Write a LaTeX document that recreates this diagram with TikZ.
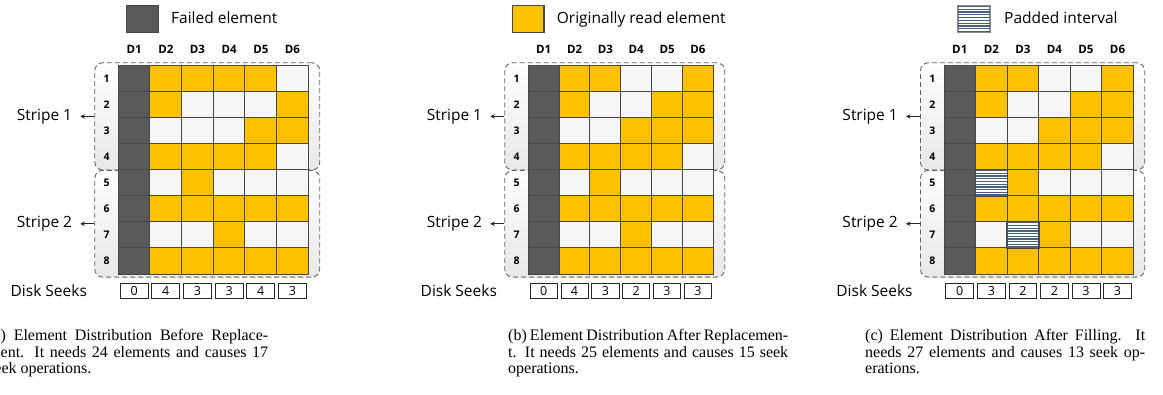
\documentclass[tikz,border=0pt]{standalone}
\usepackage{fontspec}
\setmainfont{Liberation Serif}
\newfontfamily\osans{Open Sans}
\usetikzlibrary{arrows.meta,calc}

\definecolor{ora}{HTML}{FFC000}
\definecolor{drk}{HTML}{595959}
\definecolor{wht}{HTML}{F6F6F6}
\definecolor{edge}{HTML}{474747}
\definecolor{padblue}{HTML}{44617F}

\tikzset{
  cellbox/.style={draw=edge, line width=1pt, inner sep=0pt, minimum height=26.04pt},
  stripebox/.style={draw=black!62, dash pattern=on 5pt off 3pt, line width=0.9pt,
    rounded corners=8pt, top color=white, bottom color=black!9, inner sep=0pt},
  sidelabel/.style={inner sep=0pt, font=\osans\fontsize{15.5}{18}\selectfont},
  sidearrow/.style={-{Stealth[length=4.5pt,width=4.5pt]}, line width=1pt, black!85, shorten >=8pt},
  colhead/.style={inner sep=0pt, anchor=base, font=\osans\bfseries\fontsize{11.5}{13}\selectfont},
  rowlab/.style={inner sep=0pt, font=\osans\bfseries\fontsize{10.5}{12}\selectfont},
  seekbox/.style={draw=black!85, line width=0.8pt, fill=white, inner sep=0pt,
    minimum height=15pt, font=\osans\fontsize{12.5}{13}\selectfont},
  keybox/.style={draw=edge, line width=1.1pt, inner sep=0pt, minimum width=31.6pt, minimum height=26.6pt},
  keytext/.style={inner sep=0pt, anchor=base west, font=\osans\fontsize{15.5}{18}\selectfont},
  padline/.style={padblue, line width=1.3pt},
  captext/.style={inner sep=0pt, anchor=base west, align=justify, text width=280pt,
    font=\fontsize{16}{16.3}\selectfont},
}

% horizontal hatching of a padded interval inside node #2
\newcommand{\padlines}[2][edge]{%
  \foreach \i in {0,...,9}{
    \draw[padline] ($(#2.north west)!{(\i+0.5)/10}!(#2.south west)+(0.6,0)$) --
                   ($(#2.north east)!{(\i+0.5)/10}!(#2.south east)+(-0.6,0)$);
  }
  \draw[draw=#1, line width=1pt] (#2.north west) rectangle (#2.south east);
}

% one disk array: #1 name, #2 grid left, #3 column width, #4 rows (D2..D6), #5 seeks
\newcommand{\diskpanel}[5]{%
  \def\gx{#2}\def\cw{#3}%
  \node[stripebox, anchor=north west, minimum width={6*\cw+35}, minimum height=107.3pt]
    (#1-s1) at ({\gx-24},62.3) {};
  \node[stripebox, anchor=north west, minimum width={6*\cw+35}, minimum height=106.7pt]
    (#1-s2) at ({\gx-24},170) {};
  \node[sidelabel, anchor=east] (#1-l1) at ($(#1-s1.west)+(-22,0)$) {Stripe 1};
  \node[sidelabel, anchor=east] (#1-l2) at ($(#1-s2.west)+(-22,0)$) {Stripe 2};
  \draw[sidearrow] (#1-s1.west) -- (#1-l1.east);
  \draw[sidearrow] (#1-s2.west) -- (#1-l2.east);
  \foreach \k in {1,...,6}
    \node[colhead] (#1-h\k) at ({\gx+(\k-0.5)*\cw},53.3) {D\k};
  \foreach \r in {1,...,8}{
    \node[rowlab] (#1-n\r) at ({\gx-11.6},{65.7+(\r-0.5)*26.04}) {\r};
    \node[cellbox, fill=drk, minimum width={\cw}] (#1-r\r-c1)
      at ({\gx+0.5*\cw},{65.7+(\r-0.5)*26.04}) {};
  }
  \foreach \r/\cells in {#4}{
    \foreach \f [count=\k from 2] in \cells
      \node[cellbox, fill=\f, minimum width={\cw}] (#1-r\r-c\k)
        at ({\gx+(\k-0.5)*\cw},{65.7+(\r-0.5)*26.04}) {};
  }
  \foreach \s [count=\k] in {#5}
    \node[seekbox, minimum width={\cw-3.6}] (#1-k\k) at ({\gx+(\k-0.5)*\cw},290.8) {\s};
  \node[sidelabel, anchor=base] (#1-ds) at ({\gx-69.5},297) {Disk Seeks};
}

\begin{document}
\begin{tikzpicture}[x=1pt,y=-1pt]
\clip (0,0) rectangle (1163,395);

% legends
\node[keybox, fill=drk] (a-key) at (142.5,19) {};
\node[keytext] (a-keytxt) at (171,24) {Failed element};
\node[keybox, fill=ora] (b-key) at (528.2,19) {};
\node[keytext] (b-keytxt) at (556.7,24) {Originally read element};
\node[keybox, fill=white, draw=black!45] (c-key) at (973.9,19) {};
\padlines[black!45]{c-key}
\node[keytext] (c-keytxt) at (1004,24) {Padded interval};

% (a) before replacement
\diskpanel{a}{118.3}{31.67}{
  1/{ora,ora,ora,ora,wht}, 2/{ora,wht,wht,wht,ora}, 3/{wht,wht,wht,ora,ora},
  4/{ora,ora,ora,ora,wht}, 5/{wht,ora,wht,wht,wht}, 6/{ora,ora,ora,ora,ora},
  7/{wht,wht,ora,wht,wht}, 8/{ora,ora,ora,ora,ora}}{0,4,3,3,4,3}

% (b) after replacement
\diskpanel{b}{528.3}{30.83}{
  1/{ora,ora,wht,wht,ora}, 2/{ora,wht,wht,ora,ora}, 3/{wht,wht,ora,ora,ora},
  4/{ora,ora,ora,ora,wht}, 5/{wht,ora,wht,wht,wht}, 6/{ora,ora,ora,ora,ora},
  7/{wht,wht,ora,wht,wht}, 8/{ora,ora,ora,ora,ora}}{0,4,3,2,3,3}

% (c) after filling
\diskpanel{c}{944}{31.55}{
  1/{ora,ora,wht,wht,ora}, 2/{ora,wht,wht,ora,ora}, 3/{wht,wht,ora,ora,ora},
  4/{ora,ora,ora,ora,wht}, 5/{white,ora,wht,wht,wht}, 6/{ora,ora,ora,ora,ora},
  7/{wht,white,ora,wht,wht}, 8/{ora,ora,ora,ora,ora}}{0,3,2,2,3,3}
\padlines{c-r5-c2}
\padlines{c-r7-c3}

% captions
\node[captext] (a-cap) at (-12,341)
  {(a) Element Distribution Before Replace-\linebreak ment. It needs 24 elements and causes 17\linebreak seek operations.};
\node[captext] (b-cap) at (508,341)
  {(b) Element Distribution After Replacemen-\linebreak t. It needs 25 elements and causes 15 seek\linebreak operations.};
\node[captext] (c-cap) at (865,341)
  {(c) Element Distribution After Filling. It\linebreak needs 27 elements and causes 13 seek op-\linebreak erations.};
\end{tikzpicture}
\end{document}
